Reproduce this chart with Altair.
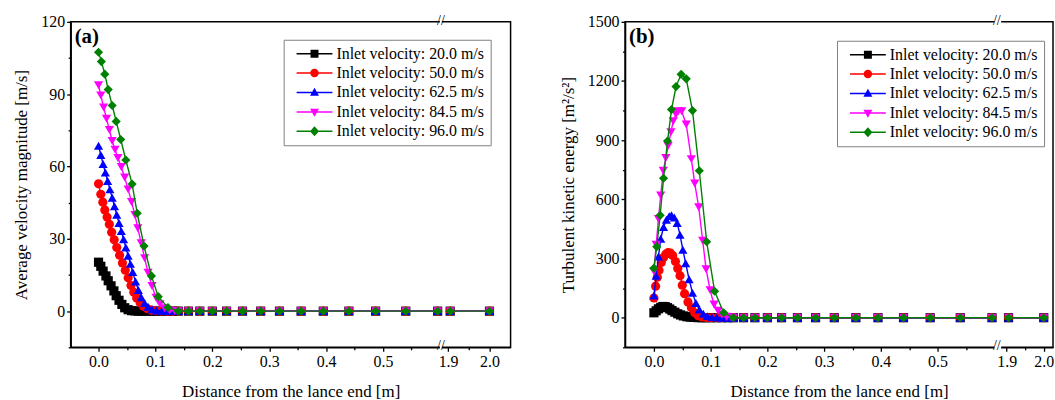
import altair as alt
import pandas as pd

SERIES = ["Inlet velocity: 20.0 m/s", "Inlet velocity: 50.0 m/s", "Inlet velocity: 62.5 m/s",
          "Inlet velocity: 84.5 m/s", "Inlet velocity: 96.0 m/s"]
COLORS = ["#000000", "#ff0000", "#0000ff", "#ff00ff", "#008000"]
SHAPES = ["square", "circle", "triangle-up", "triangle-down", "diamond"]
LEGEND_PATHS = [
    "M-0.2,-0.15H7.0V0.15H-0.2Z M2.6,-0.8H4.2V0.8H2.6Z",
    "M-0.2,-0.15H7.0V0.15H-0.2Z M4.25,0A0.85,0.85 0 1,1 2.55,0A0.85,0.85 0 1,1 4.25,0Z",
    "M-0.2,-0.15H7.0V0.15H-0.2Z M3.4,-0.95L4.3,0.65L2.5,0.65Z",
    "M-0.2,-0.15H7.0V0.15H-0.2Z M3.4,0.95L2.5,-0.65L4.3,-0.65Z",
    "M-0.2,-0.15H7.0V0.15H-0.2Z M3.4,-1L4.3,0L3.4,1L2.5,0Z",
]

X_TICKS = [0.0, 0.1, 0.2, 0.3, 0.4, 0.5, 1.9, 2.0]
X_MINOR = [0.05, 0.15, 0.25, 0.35, 0.45, 0.55, 1.95]
BREAK = [0.6, 1.885, 1.24]

# far-field sample positions shared by every series (values are zero there)
TAIL_X = [0.14, 0.158, 0.178, 0.2, 0.225, 0.253, 0.285, 0.318, 0.356, 0.395, 0.44, 0.487, 0.54, 0.596, 1.905, 2.0]
TAIL_V = [0.0, 0.0, 0.0, 0.0, 0.0, 0.0, 0.0, 0.0, 0.0, 0.0, 0.0, 0.0, 0.0, 0.0, 0.0, 0.0]

# ---- panel (a): average velocity magnitude [m/s]
A_X_20 = [0.0, 0.004, 0.008, 0.013, 0.017, 0.022, 0.027, 0.031, 0.036, 0.041, 0.046, 0.052, 0.058, 0.064, 0.070, 0.076, 0.083, 0.090, 0.097, 0.105, 0.113, 0.122, 0.131]
A_V_20 = [20.3, 18.6, 16.6, 14.6, 12.6, 10.5, 8.4, 6.4, 4.5, 2.8, 1.4, 0.6, 0.2, 0.1, 0.0, 0.0, 0.0, 0.0, 0.0, 0.0, 0.0, 0.0, 0.0]
A_X_50 = [0.0, 0.004, 0.0075, 0.011, 0.015, 0.019, 0.023, 0.0275, 0.032, 0.037, 0.042, 0.047, 0.052, 0.057, 0.062, 0.067, 0.073, 0.079, 0.086, 0.093, 0.101, 0.110, 0.120, 0.130]
A_V_50 = [52.8, 48.5, 45.2, 42.0, 39.0, 36.0, 32.7, 29.6, 26.4, 23.2, 20.0, 17.0, 13.8, 10.6, 7.8, 5.4, 3.5, 2.0, 1.0, 0.4, 0.15, 0.05, 0.0, 0.0]
A_X_625 = [0.0, 0.004, 0.008, 0.012, 0.016, 0.020, 0.024, 0.028, 0.032, 0.036, 0.040, 0.044, 0.048, 0.052, 0.056, 0.060, 0.065, 0.070, 0.075, 0.081, 0.087, 0.094, 0.102, 0.111, 0.121, 0.131]
A_V_625 = [68.6, 64.8, 61.0, 57.5, 54.0, 50.5, 47.0, 43.5, 40.0, 36.6, 33.2, 29.8, 26.4, 23.0, 19.6, 16.2, 12.3, 8.8, 5.8, 3.4, 1.8, 0.8, 0.3, 0.1, 0.0, 0.0]
A_X_845 = [0.0, 0.004, 0.009, 0.014, 0.019, 0.024, 0.029, 0.034, 0.040, 0.046, 0.052, 0.058, 0.064, 0.069, 0.075, 0.081, 0.087, 0.094, 0.101, 0.108, 0.116, 0.125, 0.134]
A_V_845 = [93.7, 89.5, 84.5, 79.8, 75.2, 70.6, 67.0, 63.5, 59.8, 55.4, 50.5, 45.3, 39.9, 34.4, 28.2, 22.0, 15.9, 10.4, 5.6, 2.9, 1.2, 0.3, 0.05]
A_X_96 = [0.0, 0.005, 0.011, 0.017, 0.024, 0.031, 0.039, 0.048, 0.059, 0.068, 0.080, 0.093, 0.105, 0.122]
A_V_96 = [107.4, 103.5, 98.3, 91.9, 85.3, 78.7, 71.2, 62.7, 52.7, 40.6, 27.0, 14.6, 6.0, 1.5]

# ---- panel (b): turbulent kinetic energy [m2/s2]
B_X_20 = [0.0, 0.004, 0.008, 0.012, 0.016, 0.020, 0.024, 0.028, 0.032, 0.037, 0.042, 0.047, 0.052, 0.058, 0.064, 0.070, 0.077, 0.084, 0.092, 0.100, 0.110, 0.120, 0.130]
B_V_20 = [25, 35, 45, 53, 57, 56, 51, 44, 36, 28, 20, 14, 9, 5, 3, 1.5, 0.5, 0, 0, 0, 0, 0, 0]
B_X_50 = [0.0, 0.003, 0.006, 0.009, 0.013, 0.017, 0.021, 0.025, 0.029, 0.033, 0.038, 0.042, 0.046, 0.050, 0.054, 0.060, 0.066, 0.072, 0.078, 0.085, 0.093, 0.102, 0.112, 0.122]
B_V_50 = [100, 160, 205, 240, 280, 305, 322, 330, 328, 315, 285, 250, 213, 165, 122, 80, 50, 25, 10, 4, 1, 0, 0, 0]
B_X_625 = [0.0, 0.004, 0.008, 0.012, 0.017, 0.022, 0.027, 0.031, 0.036, 0.041, 0.046, 0.051, 0.056, 0.062, 0.068, 0.074, 0.080, 0.087, 0.094, 0.102, 0.111, 0.121, 0.131]
B_V_625 = [112, 213, 310, 400, 460, 497, 515, 519, 508, 480, 420, 345, 276, 195, 126, 75, 42, 20, 8, 3, 1, 0, 0]
B_X_845 = [0.0, 0.004, 0.008, 0.012, 0.0165, 0.021, 0.025, 0.030, 0.034, 0.039, 0.043, 0.049, 0.057, 0.066, 0.072, 0.079, 0.086, 0.092, 0.099, 0.106, 0.113, 0.120, 0.128, 0.136]
B_V_845 = [235, 370, 500, 620, 745, 810, 871, 940, 996, 1030, 1047, 1047, 980, 804, 680, 560, 390, 246, 140, 67, 35, 15, 5, 1]
B_X_96 = [0.0, 0.005, 0.011, 0.017, 0.024, 0.031, 0.039, 0.048, 0.057, 0.068, 0.080, 0.093, 0.107, 0.123]
B_V_96 = [251, 360, 519, 707, 896, 1055, 1172, 1234, 1211, 1050, 745, 385, 134, 25]

A_XS = [A_X_20, A_X_50, A_X_625, A_X_845, A_X_96]
A_VS = [A_V_20, A_V_50, A_V_625, A_V_845, A_V_96]
B_XS = [B_X_20, B_X_50, B_X_625, B_X_845, B_X_96]
B_VS = [B_V_20, B_V_50, B_V_625, B_V_845, B_V_96]

FONT = "Liberation Serif"


def build_df(xs, vs):
    rows = []
    for name, xl, vl in zip(SERIES, xs, vs):
        for x, v in zip(list(xl) + TAIL_X, list(vl) + TAIL_V):
            rows.append({"series": name, "x": x, "v": v})
    return pd.DataFrame(rows)


def make_panel(df, W, H, xdom, xrng, ydom, yvals, yminor, ytitle, tag, legx, legy):
    xs = alt.Scale(domain=xdom, range=xrng, nice=False, zero=False)
    ys = alt.Scale(domain=ydom, nice=False, zero=False)
    base = alt.Chart(df).transform_calculate(seg="datum.x > 1 ? 2 : 1")
    layers = []
    for i, s in enumerate(SERIES):
        b = base.transform_filter(alt.datum.series == s)
        layers.append(b.mark_line(color=COLORS[i], strokeWidth=1.4).encode(
            x=alt.X("x:Q", scale=xs, axis=None),
            y=alt.Y("v:Q", scale=ys, axis=None),
            detail="seg:N"))
        layers.append(b.mark_point(shape=SHAPES[i], filled=True, color=COLORS[i],
                                   size=85, opacity=1).encode(
            x=alt.X("x:Q", scale=xs, axis=None),
            y=alt.Y("v:Q", scale=ys, axis=None)))

    brk = pd.DataFrame({"x0": [BREAK[0]], "x1": [BREAK[1]], "xm": [BREAK[2]], "t": ["//"]})
    bc = alt.Chart(brk)
    for yv in (0, H):
        layers.append(bc.mark_rect(color="white").encode(
            x=alt.X("x0:Q", scale=xs, axis=None), x2="x1:Q",
            y=alt.value(yv - 4), y2=alt.value(yv + 4)))
        layers.append(bc.mark_text(font=FONT, fontSize=14, color="black").encode(
            x=alt.X("xm:Q", scale=xs, axis=None), y=alt.value(yv - 1), text="t:N"))

    tagdf = pd.DataFrame({"t": [tag]})
    layers.append(alt.Chart(tagdf).mark_text(font=FONT, fontSize=21, fontWeight="bold",
                                             align="left", baseline="middle", color="black").encode(
        x=alt.value(4), y=alt.value(15), text="t:N"))

    # main axes
    layers.append(base.mark_point(opacity=0).encode(
        x=alt.X("x:Q", scale=xs, axis=alt.Axis(values=X_TICKS, format=".1f", orient="bottom",
                                               title="Distance from the lance end [m]",
                                               tickSize=4, labelPadding=2, titlePadding=14)),
        y=alt.Y("v:Q", scale=ys, axis=alt.Axis(values=yvals, format="d", orient="left",
                                               title=ytitle, tickSize=4, labelPadding=2,
                                               titlePadding=10))))
    # minor ticks
    layers.append(base.mark_point(opacity=0).encode(
        x=alt.X("x:Q", scale=xs, axis=alt.Axis(values=X_MINOR, labels=False, domain=False,
                                               orient="bottom", tickSize=2.5, title=None)),
        y=alt.Y("v:Q", scale=ys, axis=alt.Axis(values=yminor, labels=False, domain=False,
                                               orient="left", tickSize=2.5, title=None))))

    leg = alt.Legend(title=None, orient="none", legendX=legx, legendY=legy,
                     labelFont=FONT, labelFontSize=16, labelColor="black",
                     symbolSize=100, symbolStrokeWidth=0, labelOffset=31,
                     padding=6, rowPadding=3.5, strokeColor="#808080",
                     fillColor="white", labelLimit=400)
    layers.append(base.transform_filter("false").mark_point(filled=True, size=100, opacity=1).encode(
        shape=alt.Shape("series:N", scale=alt.Scale(domain=SERIES, range=LEGEND_PATHS), legend=leg),
        fill=alt.Fill("series:N", scale=alt.Scale(domain=SERIES, range=COLORS), legend=leg)))

    return alt.layer(*layers).resolve_axis(x="independent", y="independent").properties(
        width=W, height=H)


df_a = build_df(A_XS, A_VS)
df_b = build_df(B_XS, B_VS)

H = 327
panel_a = make_panel(df_a, 442, H, [-0.049, 0.6, 1.885, 2.051], [0, 371, 373, 442],
                     [-15, 120], [0, 30, 60, 90, 120], [-15, 15, 45, 75, 105],
                     "Average velocity magnitude [m/s]", "(a)", 214, 18)
panel_b = make_panel(df_b, 430, H, [-0.0509, 0.6, 1.88, 2.025], [0, 371, 376, 430],
                     [-150, 1500], [0, 300, 600, 900, 1200, 1500],
                     [-150, 150, 450, 750, 1050, 1350],
                     "Turbulent kinetic energy [m²/s²]", "(b)", 213, 19)

chart = alt.hconcat(panel_a, panel_b, spacing=47).resolve_scale(
    shape="independent", fill="independent").resolve_legend(
    shape="independent", fill="independent").properties(
    padding={"left": 12, "top": 12, "right": 0, "bottom": 0},
    background="white"
).configure_view(stroke="black", strokeWidth=1.5).configure_axis(
    grid=False, domainColor="black", domainWidth=1.5, tickColor="black", tickWidth=1.3,
    labelFont=FONT, labelFontSize=16, labelColor="black",
    titleFont=FONT, titleFontSize=17, titleFontWeight="normal", titleColor="black")

chart.save("out.html", embed_options={"renderer": "svg", "actions": False})
